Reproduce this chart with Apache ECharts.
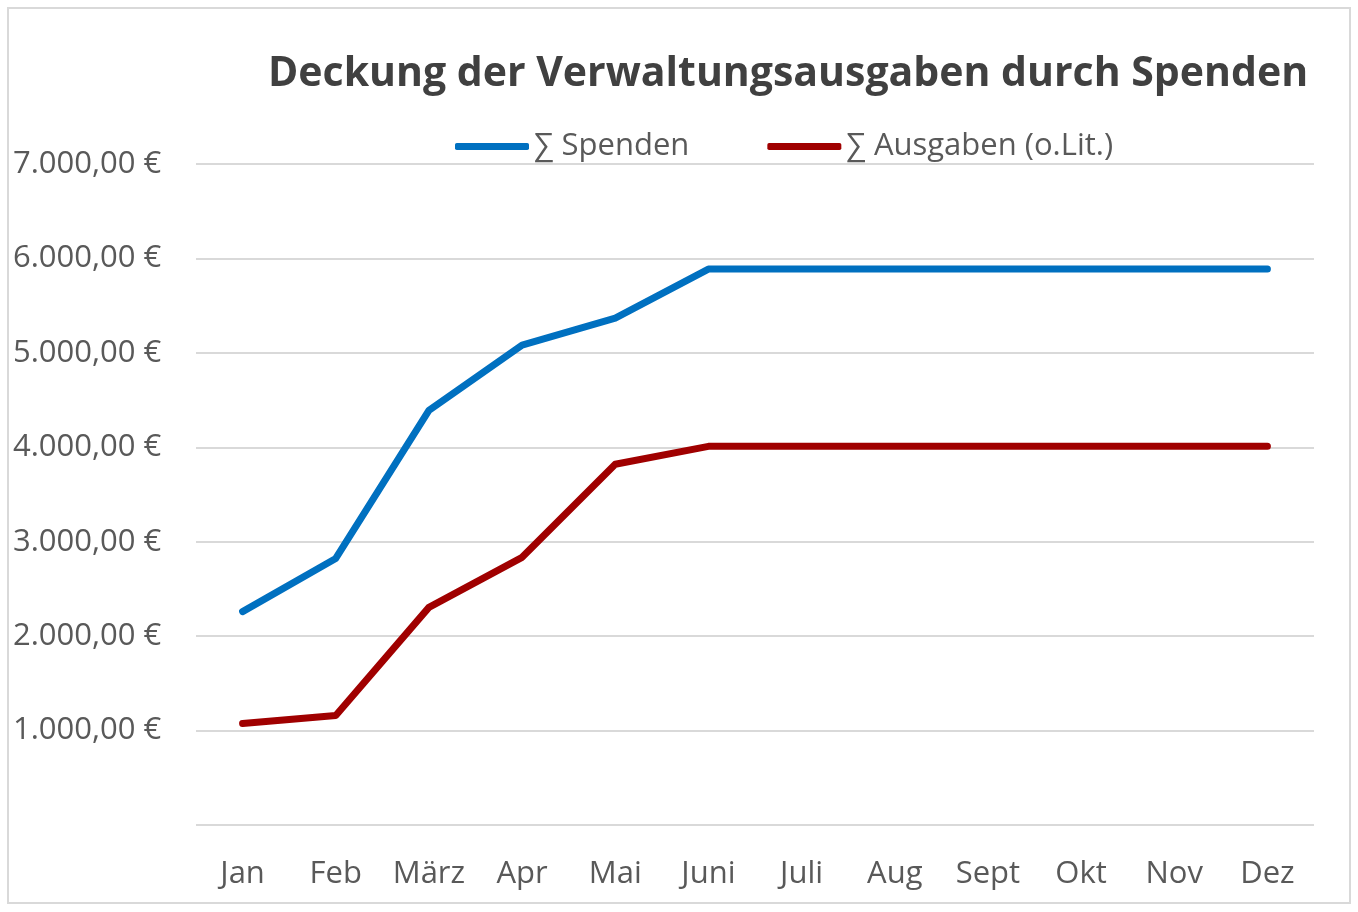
<!DOCTYPE html>
<html><head><meta charset="utf-8">
<script src="https://cdn.jsdelivr.net/npm/echarts@6/dist/echarts.min.js"></script>
<style>html,body{margin:0;padding:0;background:#fff}#c{width:1358px;height:912px}</style>
</head><body><div id="c"></div>
<script>
const categories = ['Jan','Feb','März','Apr','Mai','Juni','Juli','Aug','Sept','Okt','Nov','Dez'];
const spenden = [2260, 2823, 4392, 5081, 5367, 5887, 5887, 5887, 5887, 5887, 5887, 5887];
const ausgaben = [1075, 1160, 2305, 2835, 3820, 4010, 4010, 4010, 4010, 4010, 4010, 4010];
const seriesNames = ['∑ Spenden', '∑ Ausgaben (o.Lit.)'];
const FONT = 'Open Sans';
function fmt(v){
  if (v === 0) return '';
  const s = Math.round(v).toString().replace(/\B(?=(\d{3})+(?!\d))/g, '.');
  return s + ',00 €';
}
const chart = echarts.init(document.getElementById('c'), null, {renderer:'canvas'});
chart.setOption({
  backgroundColor:'#fff',
  animation:false,
  title:{text:'Deckung der Verwaltungsausgaben durch Spenden', left:268, top:54, padding:0,
    textStyle:{fontFamily:FONT, fontSize:41, fontWeight:'bold', color:'#404040'}},
  legend:{top:131, left:455, padding:0, itemWidth:74, itemHeight:7, itemGap:78, icon:'roundRect',
    data:seriesNames,
    textStyle:{fontFamily:FONT, fontSize:31, color:'#595959'}},
  graphic:[{type:'rect', shape:{x:8,y:8,width:1342,height:895}, style:{fill:'none', stroke:'#d9d9d9', lineWidth:2}, silent:true}],
  grid:{left:196, right:44, top:164, bottom:87, containLabel:false},
  xAxis:{type:'category', data:categories, boundaryGap:true,
    axisLine:{show:false}, axisTick:{show:false},
    axisLabel:{interval:0, margin:34, fontFamily:FONT, fontSize:31, color:'#595959'}},
  yAxis:{type:'value', min:0, max:7000, interval:1000,
    axisLine:{show:false}, axisTick:{show:false},
    splitLine:{lineStyle:{color:'#d9d9d9', width:2}},
    axisLabel:{formatter:fmt, align:'left', margin:183, fontFamily:FONT, fontSize:31, color:'#595959'}},
  series:[
    {name:seriesNames[0], type:'line', data:spenden, symbol:'none', color:'#0070C0',
      lineStyle:{width:7, color:'#0070C0', cap:'round', join:'round'}},
    {name:seriesNames[1], type:'line', data:ausgaben, symbol:'none', color:'#A00000',
      lineStyle:{width:7, color:'#A00000', cap:'round', join:'round'}}
  ]
});
</script></body></html>
